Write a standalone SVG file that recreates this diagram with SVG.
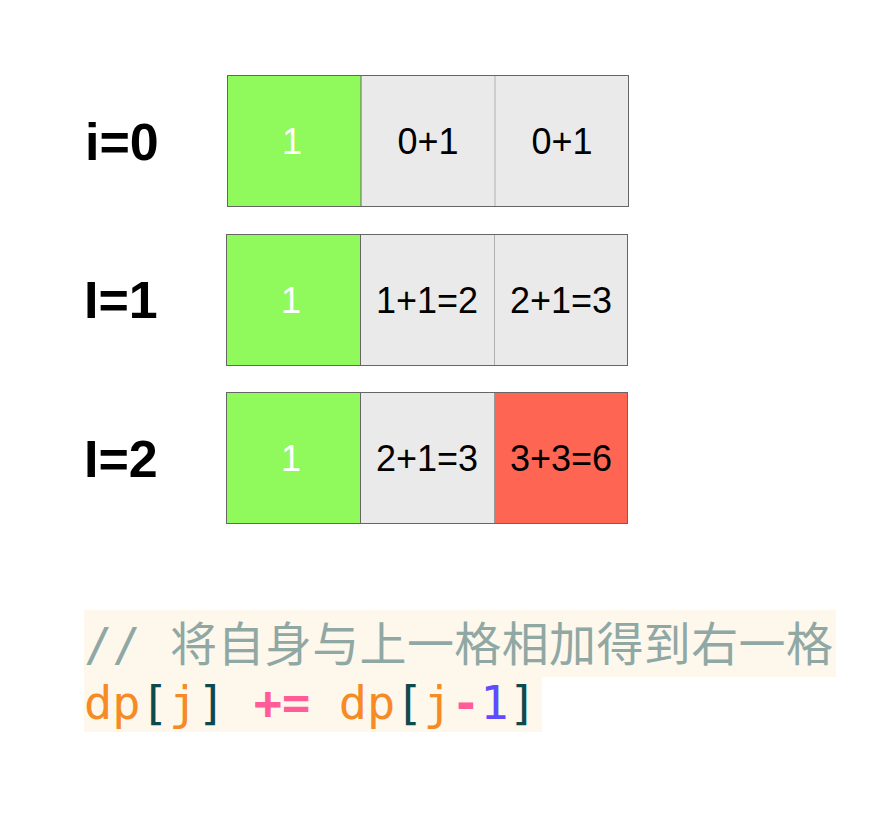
<svg xmlns="http://www.w3.org/2000/svg" width="890" height="824" viewBox="0 0 890 824">
<style>
.lbl{font-family:"Liberation Sans",Arial,sans-serif;font-weight:bold;font-size:52px;fill:#000}
.ct{font-family:"Liberation Sans",Arial,sans-serif;font-size:36px;fill:#000;text-anchor:middle}
.cw{font-family:"Liberation Sans",Arial,sans-serif;font-size:36px;fill:#fff;text-anchor:middle}
.g{fill:#90f95b}
.gr{fill:#eaeaea}
.rd{fill:#fe6653}
.out{fill:none;stroke:#666;stroke-width:1}
.dk{stroke:#666;stroke-width:1}
.lt{stroke:#b0b0b0;stroke-width:1}
.mono{font-family:"DejaVu Sans Mono","Liberation Mono",monospace;font-size:47px}
.cjk{font-family:"Noto Sans CJK SC","Noto Sans CJK JP",sans-serif;font-size:47px;fill:#8fa8a4}
.cm{fill:#8fa8a4}
.or{fill:#f68a24}
.br{fill:#0c4a50}
.pk{fill:#ff5c98;font-weight:bold}
.pu{fill:#5f4cff}
</style>
<g id="row0">
<text class="lbl" x="85" y="160">i=0</text>
<rect class="g" x="227" y="75" width="134" height="132"/>
<rect class="gr" x="361" y="75" width="268" height="132"/>
<line class="dk" x1="361" y1="75" x2="361" y2="207"/>
<line class="lt" x1="495" y1="75" x2="495" y2="207"/>
<rect class="out" x="227.5" y="75.5" width="401" height="131"/>
<text class="cw" x="292" y="154">1</text>
<text class="ct" x="428" y="154">0+1</text>
<text class="ct" x="562" y="154">0+1</text>
</g>
<g id="row1">
<text class="lbl" x="84" y="318">I=1</text>
<rect class="g" x="226" y="234" width="134" height="132"/>
<rect class="gr" x="360" y="234" width="268" height="132"/>
<line class="dk" x1="360.5" y1="234" x2="360.5" y2="366"/>
<line class="lt" x1="494.5" y1="234" x2="494.5" y2="366"/>
<rect class="out" x="226.5" y="234.5" width="401" height="131"/>
<text class="cw" x="291" y="313">1</text>
<text class="ct" x="427" y="313">1+1=2</text>
<text class="ct" x="561" y="313">2+1=3</text>
</g>
<g id="row2">
<text class="lbl" x="84" y="477">I=2</text>
<rect class="g" x="226" y="392" width="134" height="132"/>
<rect class="gr" x="360" y="392" width="134" height="132"/>
<rect class="rd" x="494" y="392" width="134" height="132"/>
<line class="dk" x1="360.5" y1="392" x2="360.5" y2="524"/>
<line stroke="#999" stroke-width="1" x1="494.5" y1="392" x2="494.5" y2="524"/>
<rect class="out" x="226.5" y="392.5" width="401" height="131"/>
<text class="cw" x="291" y="471">1</text>
<text class="ct" x="427" y="471">2+1=3</text>
<text class="ct" x="561" y="471">3+3=6</text>
</g>
<g id="code">
<rect x="84" y="610" width="752" height="67" fill="#fdf7ec"/>
<rect x="84" y="677" width="458" height="55" fill="#fdf7ec"/>
<text class="mono cm" x="84" y="661">//</text>
<text class="cjk" x="170" y="661" textLength="663" lengthAdjust="spacing">将自身与上一格相加得到右一格</text>
<text class="mono" x="84" y="719" xml:space="preserve"><tspan class="or">dp</tspan><tspan class="br">[</tspan><tspan class="or">j</tspan><tspan class="br">]</tspan> <tspan class="pk">+=</tspan> <tspan class="or">dp</tspan><tspan class="br">[</tspan><tspan class="or">j</tspan><tspan class="pk">-</tspan><tspan class="pu">1</tspan><tspan class="br">]</tspan></text>
</g>
<g id="connectors"/>
</svg>
